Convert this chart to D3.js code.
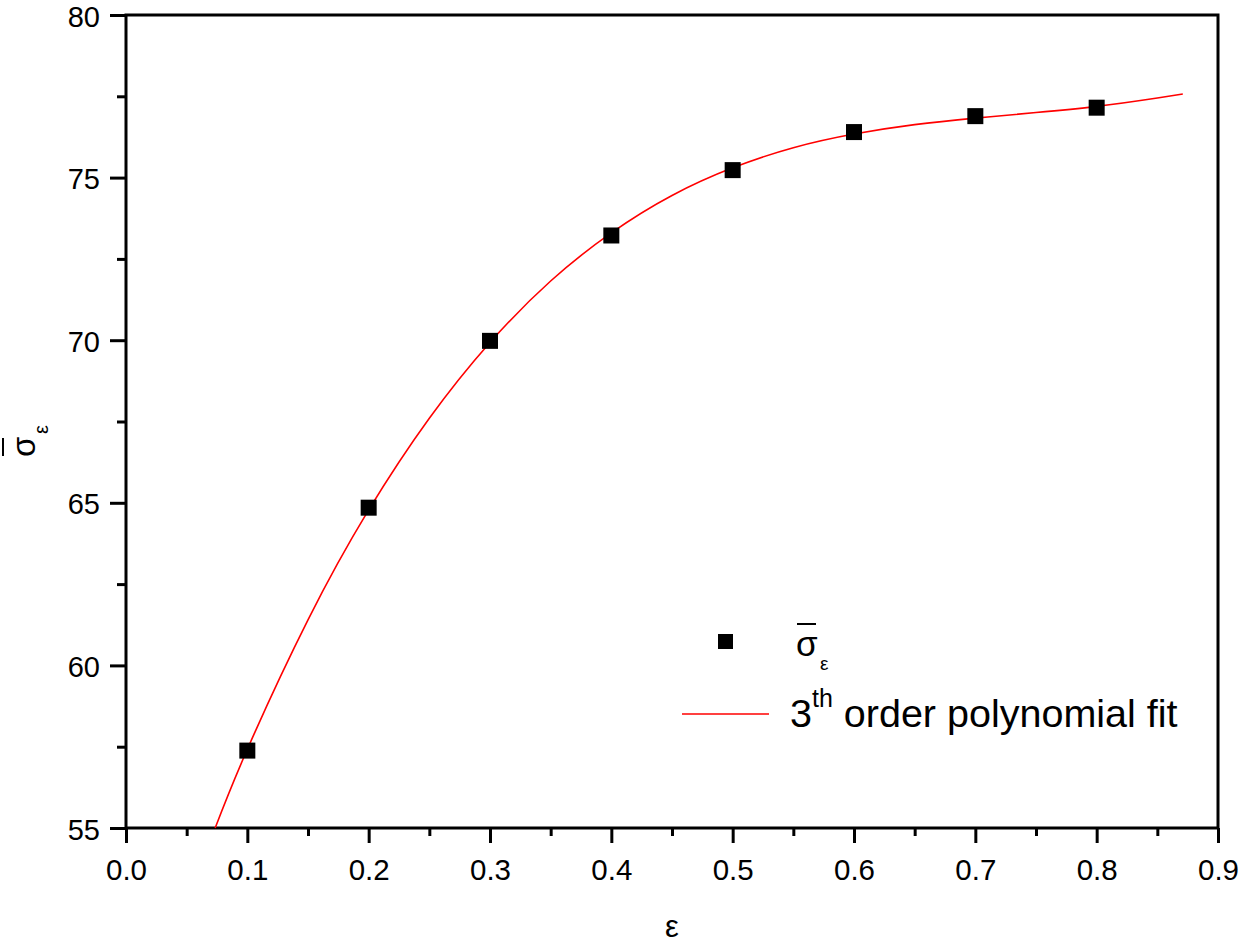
<!DOCTYPE html>
<html>
<head>
<meta charset="utf-8">
<script src="https://cdn.jsdelivr.net/npm/d3@7"></script>
<style>
  html, body { margin: 0; padding: 0; background: #fff; }
  svg { display: block; }
  text { font-family: "Liberation Sans", Arial, sans-serif; fill: #000; }
</style>
</head>
<body>
<svg id="chart" width="1240" height="943"></svg>
<script>
// ---- data ----
const strainX = [0.1, 0.2, 0.3, 0.4, 0.5, 0.6, 0.7, 0.8];
const stressY = [57.38, 64.85, 69.98, 73.22, 75.23, 76.40, 76.89, 77.15];

// 3rd-order polynomial fit curve, sampled along the red line
const fitX = [0.0735, 0.1, 0.15, 0.2, 0.25, 0.3, 0.35, 0.4, 0.45, 0.5, 0.55, 0.6, 0.65, 0.7, 0.75, 0.8, 0.85, 0.871];
const fitY = [55.0, 57.42, 61.40, 64.78, 67.60, 69.93, 71.82, 73.30, 74.45, 75.30, 75.92, 76.34, 76.63, 76.83, 77.00, 77.19, 77.45, 77.57];

const xMajorTicks = [0.0, 0.1, 0.2, 0.3, 0.4, 0.5, 0.6, 0.7, 0.8, 0.9];
const xMinorTicks = [0.05, 0.15, 0.25, 0.35, 0.45, 0.55, 0.65, 0.75, 0.85];
const yMajorTicks = [55, 60, 65, 70, 75, 80];
const yMinorTicks = [57.5, 62.5, 67.5, 72.5, 77.5];

const legendLabels = ["σ", "ε", "3", "th", " order polynomial fit"];

// ---- layout ----
const svg = d3.select("#chart");
const pL = 126, pR = 1218, pT = 15, pB = 828;

const x = d3.scaleLinear().domain([0, 0.9]).range([pL, pR]);
const y = d3.scaleLinear().domain([55, 80]).range([pB, pT]);

const axisW = 3;

// frame
svg.append("rect")
  .attr("x", pL).attr("y", pT)
  .attr("width", pR - pL).attr("height", pB - pT)
  .attr("fill", "none").attr("stroke", "#000").attr("stroke-width", axisW);

// x axis major
const gx = svg.append("g").attr("transform", `translate(0,${pB})`)
  .call(d3.axisBottom(x).tickValues(xMajorTicks).tickSize(15).tickPadding(16)
    .tickFormat(d3.format(".1f")));
gx.select(".domain").remove();
gx.selectAll(".tick line").attr("stroke-width", axisW);
gx.selectAll(".tick text").attr("font-size", 29.5).attr("font-family", "Liberation Sans, Arial, sans-serif");

// x axis minor
const gxm = svg.append("g").attr("transform", `translate(0,${pB})`)
  .call(d3.axisBottom(x).tickValues(xMinorTicks).tickSize(8).tickFormat(""));
gxm.select(".domain").remove();
gxm.selectAll(".tick line").attr("stroke-width", axisW);

// y axis major
const gy = svg.append("g").attr("transform", `translate(${pL},0)`)
  .call(d3.axisLeft(y).tickValues(yMajorTicks).tickSize(16).tickPadding(10));
gy.select(".domain").remove();
gy.selectAll(".tick line").attr("stroke-width", axisW);
gy.selectAll(".tick text").attr("font-size", 29).attr("dy", "0.38em")
  .attr("font-family", "Liberation Sans, Arial, sans-serif");

// y axis minor
const gym = svg.append("g").attr("transform", `translate(${pL},0)`)
  .call(d3.axisLeft(y).tickValues(yMinorTicks).tickSize(9).tickFormat(""));
gym.select(".domain").remove();
gym.selectAll(".tick line").attr("stroke-width", axisW);

// fit curve
const line = d3.line().x((d, i) => x(fitX[i])).y((d, i) => y(fitY[i])).curve(d3.curveNatural);
svg.append("path").datum(fitX)
  .attr("d", line)
  .attr("fill", "none").attr("stroke", "#ff0000").attr("stroke-width", 1.6);

// data squares
const sq = 16;
svg.append("g").selectAll("rect").data(strainX).join("rect")
  .attr("x", (d) => x(d) - sq / 2)
  .attr("y", (d, i) => y(stressY[i]) - sq / 2)
  .attr("width", sq).attr("height", sq)
  .attr("fill", "#000");

// x axis title
svg.append("text").attr("x", (pL + pR) / 2).attr("y", 937)
  .attr("text-anchor", "middle").attr("font-size", 31).text(legendLabels[1]);

// y axis title (rotated sigma-bar with epsilon subscript)
const yt = svg.append("g").attr("transform", "translate(35,457) rotate(-90)");
yt.append("text").attr("x", 0).attr("y", 0).attr("font-size", 33).text(legendLabels[0]);
yt.append("line").attr("x1", 1).attr("x2", 19).attr("y1", -32).attr("y2", -32)
  .attr("stroke", "#000").attr("stroke-width", 2);
yt.append("text").attr("x", 23).attr("y", 13).attr("font-size", 20).text(legendLabels[1]);

// legend
const lg = svg.append("g");
lg.append("rect").attr("x", 718).attr("y", 634).attr("width", 15).attr("height", 15).attr("fill", "#000");
lg.append("text").attr("x", 796).attr("y", 656).attr("font-size", 35).text(legendLabels[0]);
lg.append("line").attr("x1", 797).attr("x2", 816).attr("y1", 624).attr("y2", 624)
  .attr("stroke", "#000").attr("stroke-width", 2);
lg.append("text").attr("x", 820).attr("y", 670).attr("font-size", 19).text(legendLabels[1]);

lg.append("line").attr("x1", 682).attr("x2", 769).attr("y1", 714).attr("y2", 714)
  .attr("stroke", "#ff0000").attr("stroke-width", 1.6);
const lt = lg.append("text").attr("x", 790).attr("y", 727).attr("font-size", 39.5);
lt.append("tspan").text(legendLabels[2]);
lt.append("tspan").attr("font-size", 25).attr("dy", -20).text(legendLabels[3]);
lt.append("tspan").attr("dy", 20).text(legendLabels[4]);
</script>
</body>
</html>
